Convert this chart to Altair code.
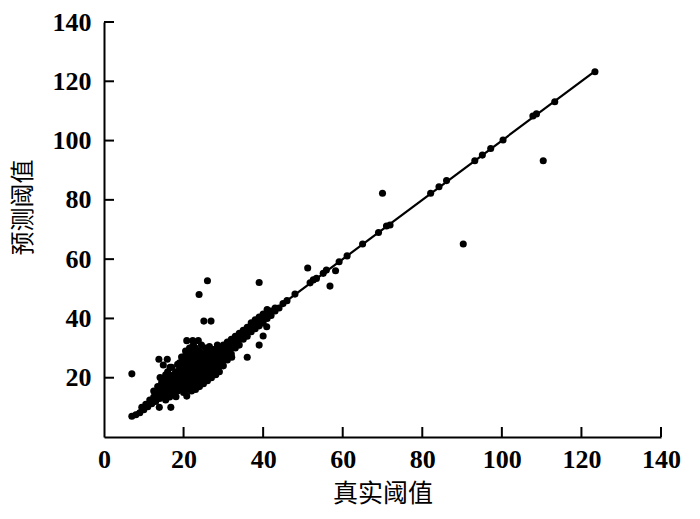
import altair as alt
import pandas as pd

# Outliers and points along the diagonal (true threshold, predicted threshold)
true_vals = [
    7, 7, 8, 9, 9.5, 10, 10.5, 11, 11.5, 12, 12.5, 13, 13.5, 14, 14, 14.5, 15, 15, 15.5, 16, 16, 16.5,
    17, 17, 17.5, 18, 18, 18.5, 19, 19, 19.5, 19, 18.5, 18, 17.5, 16, 16.5, 15.5, 17, 14.5, 13.5, 12.5,
    15.5, 16.5, 17.5, 18.5, 19.5,
    20, 20, 20, 20, 20, 20, 20,
    21, 21, 21, 21, 21, 21, 21,
    22, 22, 22, 22, 22, 22, 22, 22,
    23, 23, 23, 23, 23, 23, 23, 23,
    24, 24, 24, 24, 24, 24, 24,
    25, 25, 25, 25, 25, 25,
    26, 26, 26, 26, 26, 26,
    27, 27, 27, 27, 27,
    28, 28, 28, 28, 28,
    29, 29, 29, 29, 29,
    30, 30, 30, 30, 30,
    31, 31, 31, 31,
    32, 32, 32, 32,
    33, 33, 33, 34, 34, 34, 35, 35, 35, 36, 36, 36, 37, 37, 37, 38, 38, 38, 39, 39, 39,
    40, 40, 40, 41, 41, 41, 42, 42, 43, 43, 44, 45, 46,
    19, 19.5, 20.5, 21.5, 22.5, 24.5, 25.5, 26.5, 27.5, 28.5,
    13.8, 15.9, 14.9, 16.6, 19.9, 14.1, 15.5, 28.1, 29.3, 20.8, 18.1, 13.9, 16.8, 22.0, 24.1,
    20.8, 22.3, 23.7, 21.9, 32.1, 36.0, 39.0, 40.0, 40.9,
    26.0, 39.0, 23.9, 25.1, 26.9,
    48.0, 51.8, 52.6, 53.4, 55.1, 55.9, 51.2, 58.2, 56.8, 59.1, 61.1, 65.0,
    69.0, 71.0, 71.9, 70.0, 90.3, 82.1, 84.2, 86.1, 93.2, 95.1, 97.2, 100.3,
    107.8, 108.7, 110.4, 113.3, 123.4,
]
pred_vals = [
    7, 21.3, 7.5, 8.2, 10, 9.2, 11, 10.2, 12.5, 11.2, 13.5, 12, 14.2, 13, 16, 15.2, 14, 17.5, 16, 15, 18.5, 17.2,
    16, 19.5, 18, 17, 20.5, 19, 17.5, 21.5, 20, 23, 24.5, 22, 21, 22, 20.5, 21, 23.5, 18.5, 17, 15.5,
    12.5, 13.5, 14.5, 15.5, 16.5,
    15, 17, 19, 21, 23, 25, 27,
    16, 18, 20, 22, 24, 26, 28,
    15.5, 17.5, 19.5, 21.5, 23.5, 25.5, 27.5, 29,
    16, 18, 20, 22, 24, 26, 28, 30,
    17, 19, 21, 23, 25, 27, 29,
    18, 20, 22, 24, 26, 28,
    19, 21, 23, 25, 27, 29,
    20, 22, 24, 26, 28,
    21, 23, 25, 27, 29,
    22, 24, 26, 28, 30,
    24, 26, 28, 30, 31,
    26, 28, 30, 32,
    28, 30, 32, 33,
    30, 32, 34, 31, 33, 35, 33, 34.5, 36, 34, 36, 37, 35.5, 37, 38.5, 36.5, 38, 39.5, 37.5, 39, 40.5,
    38.5, 40, 41.5, 40, 41.5, 43, 41, 42.5, 42.5, 43.5, 43.5, 45, 46,
    25, 27, 29, 30, 31, 31, 30, 30.5, 29.5, 31,
    26.2, 26.2, 24.3, 23.5, 26.9, 20.1, 19.8, 21.1, 24.3, 13.8, 13.6, 10.0, 10.0, 17.0, 18.1,
    32.5, 32.5, 32.5, 30.1, 26.9, 26.9, 31.0, 34.1, 37.2,
    52.7, 52.1, 48.1, 39.1, 39.1,
    48.2, 52.0, 53.0, 53.5, 55.2, 56.3, 57.0, 56.1, 50.9, 59.1, 61.1, 65.1,
    69.0, 71.2, 71.5, 82.2, 65.1, 82.2, 84.4, 86.5, 93.2, 95.1, 97.3, 100.2,
    108.3, 109.0, 93.2, 113.1, 123.2,
]

line_x = [7, 123]
line_y = [7, 123]
tick_values = [20, 40, 60, 80, 100, 120, 140]

W, H = 557, 415
points = pd.DataFrame({"x": true_vals, "y": pred_vals})
line = pd.DataFrame({"x": line_x, "y": line_y})
ticks = pd.DataFrame({"v": tick_values})

label_font = "Liberation Serif"
title_font = "Noto Sans CJK SC"

xscale = alt.Scale(domain=[0, 140], nice=False, zero=False)
yscale = alt.Scale(domain=[0, 140], nice=False, zero=False)

x_axis = alt.Axis(
    values=[0, 20, 40, 60, 80, 100, 120, 140], grid=False, ticks=False, tickSize=0,
    domainColor="black", domainWidth=2, labelFont=label_font, labelFontSize=26,
    labelFontWeight="bold", labelColor="black", labelPadding=9, labelFlush=False,
    title="真实阈值", titleFont=title_font, titleFontSize=25, titleFontWeight="normal",
    titleColor="black", titleY=56, titleBaseline="middle",
)
y_axis = alt.Axis(
    values=[20, 40, 60, 80, 100, 120, 140], grid=False, ticks=False, tickSize=0,
    domainColor="black", domainWidth=2, labelFont=label_font, labelFontSize=26,
    labelFontWeight="bold", labelColor="black", labelPadding=13, labelFlush=False,
    title="预测阈值", titleFont=title_font, titleFontSize=24, titleFontWeight="normal",
    titleColor="black", titleX=-81, titleY=185, titleAlign="center", titleBaseline="middle",
)

pts = alt.Chart(points).mark_circle(size=50, color="black", opacity=1).encode(
    x=alt.X("x:Q", scale=xscale, axis=x_axis),
    y=alt.Y("y:Q", scale=yscale, axis=y_axis),
)

diag = alt.Chart(line).mark_line(color="black", strokeWidth=2.2).encode(
    x=alt.X("x:Q", scale=xscale), y=alt.Y("y:Q", scale=yscale)
)

xticks = alt.Chart(ticks).mark_rule(color="black", strokeWidth=2).encode(
    x=alt.X("v:Q", scale=xscale), y=alt.value(H), y2=alt.value(H - 10)
)
yticks = alt.Chart(ticks).mark_rule(color="black", strokeWidth=2).encode(
    y=alt.Y("v:Q", scale=yscale), x=alt.value(0), x2=alt.value(10)
)

chart = alt.layer(diag, pts, xticks, yticks).properties(
    width=W, height=H,
    autosize=alt.AutoSizeParams(type="none"),
    padding={"left": 96, "top": 14, "right": 31, "bottom": 74},
).configure_view(stroke=None)

chart.save("out.html", embed_options={"renderer": "svg", "actions": False})
